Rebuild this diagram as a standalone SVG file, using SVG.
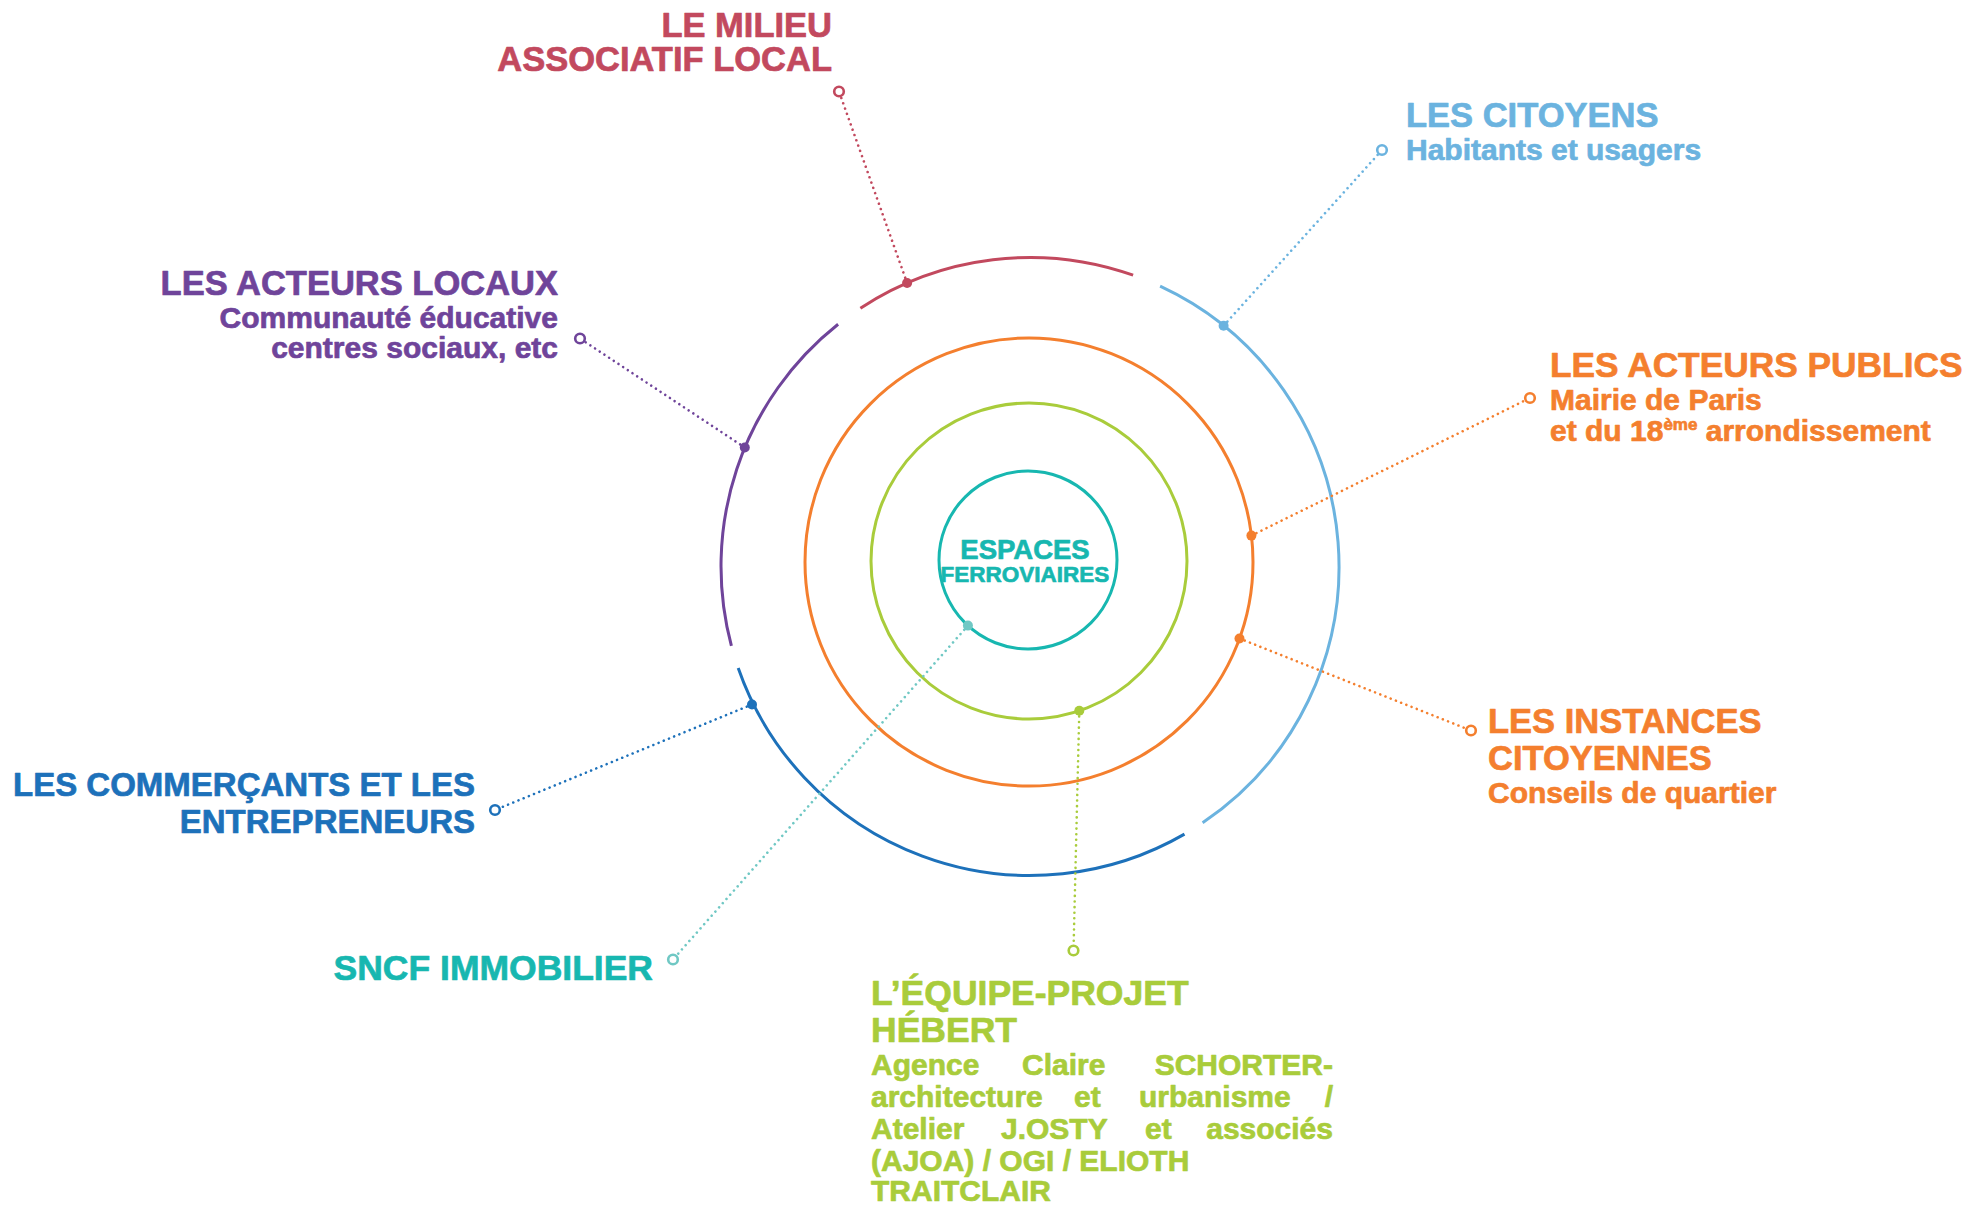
<svg xmlns="http://www.w3.org/2000/svg" width="1969" height="1206" viewBox="0 0 1969 1206">
<style>
text{font-family:"Liberation Sans",Arial,sans-serif;font-weight:bold;stroke-width:0.7;stroke-linejoin:round}
.t{font-size:34.5px}
.s{font-size:30px}
.ring{fill:none;stroke-width:3}
.con{fill:none;stroke-width:2.6;stroke-linecap:round;stroke-dasharray:0.01 5.6}
.oc{fill:#fff;stroke-width:2.6}
.red{fill:#C2495E;stroke:#C2495E}.lb{fill:#6BB3DF;stroke:#6BB3DF}.pu{fill:#6F449A;stroke:#6F449A}.or{fill:#F47F2E;stroke:#F47F2E}.db{fill:#1D71BA;stroke:#1D71BA}.te{fill:#17B7B0;stroke:#17B7B0}.gr{fill:#A9CC3B;stroke:#A9CC3B}
circle.red,circle.lb,circle.pu,circle.or,circle.db,circle.gr{stroke:none}
</style>
<rect width="1969" height="1206" fill="#fff"/>
<g id="rings">
<path class="ring" stroke="#C2495E" d="M860.4,308.2 A309,309 0 0 1 1133.1,275.2"/>
<path class="ring" stroke="#6BB3DF" d="M1160.1,286.2 A309,309 0 0 1 1202.6,822.8"/>
<path class="ring" stroke="#1D71BA" d="M1184.5,834.1 A309,309 0 0 1 738.2,668.1"/>
<path class="ring" stroke="#6F449A" d="M731.4,645.9 A309,309 0 0 1 838.1,324.3"/>
<circle class="ring" stroke="#F47F2E" cx="1029" cy="562" r="224"/>
<circle class="ring" stroke="#A9CC3B" cx="1029" cy="561" r="158"/>
<circle class="ring" stroke="#17B7B0" cx="1028" cy="560" r="89"/>
</g>
<g id="connectors">
<line class="con" stroke="#C2495E" x1="907.1" y1="283" x2="839" y2="91.5"/>
<line class="con" stroke="#6BB3DF" x1="1223.6" y1="325.7" x2="1382" y2="150"/>
<line class="con" stroke="#6F449A" x1="744.8" y1="447.5" x2="580" y2="338.5"/>
<line class="con" stroke="#F47F2E" x1="1251.4" y1="535.6" x2="1530" y2="398"/>
<line class="con" stroke="#F47F2E" x1="1239.5" y1="638.5" x2="1471" y2="730.5"/>
<line class="con" stroke="#1D71BA" x1="752" y1="704.5" x2="495" y2="810"/>
<line class="con" stroke="#70C8C4" x1="967.9" y1="625.6" x2="673" y2="959.5"/>
<line class="con" stroke="#A9CC3B" x1="1079.3" y1="710.8" x2="1073.5" y2="950.5"/>
<circle cx="907.1" cy="283" r="5" class="red"/>
<circle cx="1223.6" cy="325.7" r="5" class="lb"/>
<circle cx="744.8" cy="447.5" r="5" class="pu"/>
<circle cx="1251.4" cy="535.6" r="5" class="or"/>
<circle cx="1239.5" cy="638.5" r="5" class="or"/>
<circle cx="752" cy="704.5" r="5" class="db"/>
<circle cx="967.9" cy="625.6" r="5" fill="#70C8C4"/>
<circle cx="1079.3" cy="710.8" r="5" class="gr"/>
<circle class="oc" stroke="#C2495E" cx="839" cy="91.5" r="4.8"/>
<circle class="oc" stroke="#6BB3DF" cx="1382" cy="150" r="4.8"/>
<circle class="oc" stroke="#6F449A" cx="580" cy="338.5" r="4.8"/>
<circle class="oc" stroke="#F47F2E" cx="1530" cy="398" r="4.8"/>
<circle class="oc" stroke="#F47F2E" cx="1471" cy="730.5" r="4.8"/>
<circle class="oc" stroke="#1D71BA" cx="495" cy="810" r="4.8"/>
<circle class="oc" stroke="#70C8C4" cx="673" cy="959.5" r="4.8"/>
<circle class="oc" stroke="#A9CC3B" cx="1073.5" cy="950.5" r="4.8"/>
</g>
<g id="center">
<text class="te" x="1025" y="559" text-anchor="middle" font-size="27.5">ESPACES</text>
<text class="te" x="1025" y="582" text-anchor="middle" font-size="22.5">FERROVIAIRES</text>
</g>
<g id="milieu" class="red" text-anchor="end">
<text class="t" x="832" y="36.5">LE MILIEU</text>
<text class="t" x="832" y="71">ASSOCIATIF LOCAL</text>
</g>
<g id="citoyens" class="lb">
<text class="t" x="1406" y="127">LES CITOYENS</text>
<text class="s" x="1406" y="160">Habitants et usagers</text>
</g>
<g id="acteurs-locaux" class="pu" text-anchor="end">
<text class="t" x="558" y="295">LES ACTEURS LOCAUX</text>
<text class="s" x="558" y="328">Communauté éducative</text>
<text class="s" x="558" y="358">centres sociaux, etc</text>
</g>
<g id="acteurs-publics" class="or">
<text class="t" x="1550" y="377" style="font-size:35.3px">LES ACTEURS PUBLICS</text>
<text class="s" x="1550" y="410">Mairie de Paris</text>
<text class="s" x="1550" y="441">et du 18<tspan font-size="17" dy="-11">ème</tspan><tspan dy="11"> arrondissement</tspan></text>
</g>
<g id="instances" class="or">
<text class="t" x="1488" y="733">LES INSTANCES</text>
<text class="t" x="1488" y="770">CITOYENNES</text>
<text class="s" x="1488" y="803">Conseils de quartier</text>
</g>
<g id="commercants" class="db" text-anchor="end">
<text x="475" y="796" style="font-size:33px">LES COMMERÇANTS ET LES</text>
<text x="475" y="833" style="font-size:33px">ENTREPRENEURS</text>
</g>
<g id="sncf" class="te">
<text x="653" y="980" text-anchor="end" style="font-size:35.5px">SNCF IMMOBILIER</text>
</g>
<g id="equipe" class="gr">
<text x="871" y="1005" style="font-size:35.5px">L’ÉQUIPE-PROJET</text>
<text x="871" y="1042" style="font-size:35.5px">HÉBERT</text>
<text class="s" y="1075"><tspan x="871">Agence</tspan><tspan x="1022">Claire</tspan></text>
<text class="s" x="1333" y="1075" text-anchor="end">SCHORTER-</text>
<text class="s" y="1107"><tspan x="871">architecture</tspan><tspan x="1074">et</tspan><tspan x="1139">urbanisme</tspan></text>
<text class="s" x="1333" y="1107" text-anchor="end">/</text>
<text class="s" y="1139"><tspan x="871">Atelier</tspan><tspan x="1001">J.OSTY</tspan><tspan x="1145">et</tspan></text>
<text class="s" x="1333" y="1139" text-anchor="end">associés</text>
<text class="s" x="871" y="1171">(AJOA) / OGI / ELIOTH</text>
<text class="s" x="871" y="1201">TRAITCLAIR</text>
</g>
</svg>
